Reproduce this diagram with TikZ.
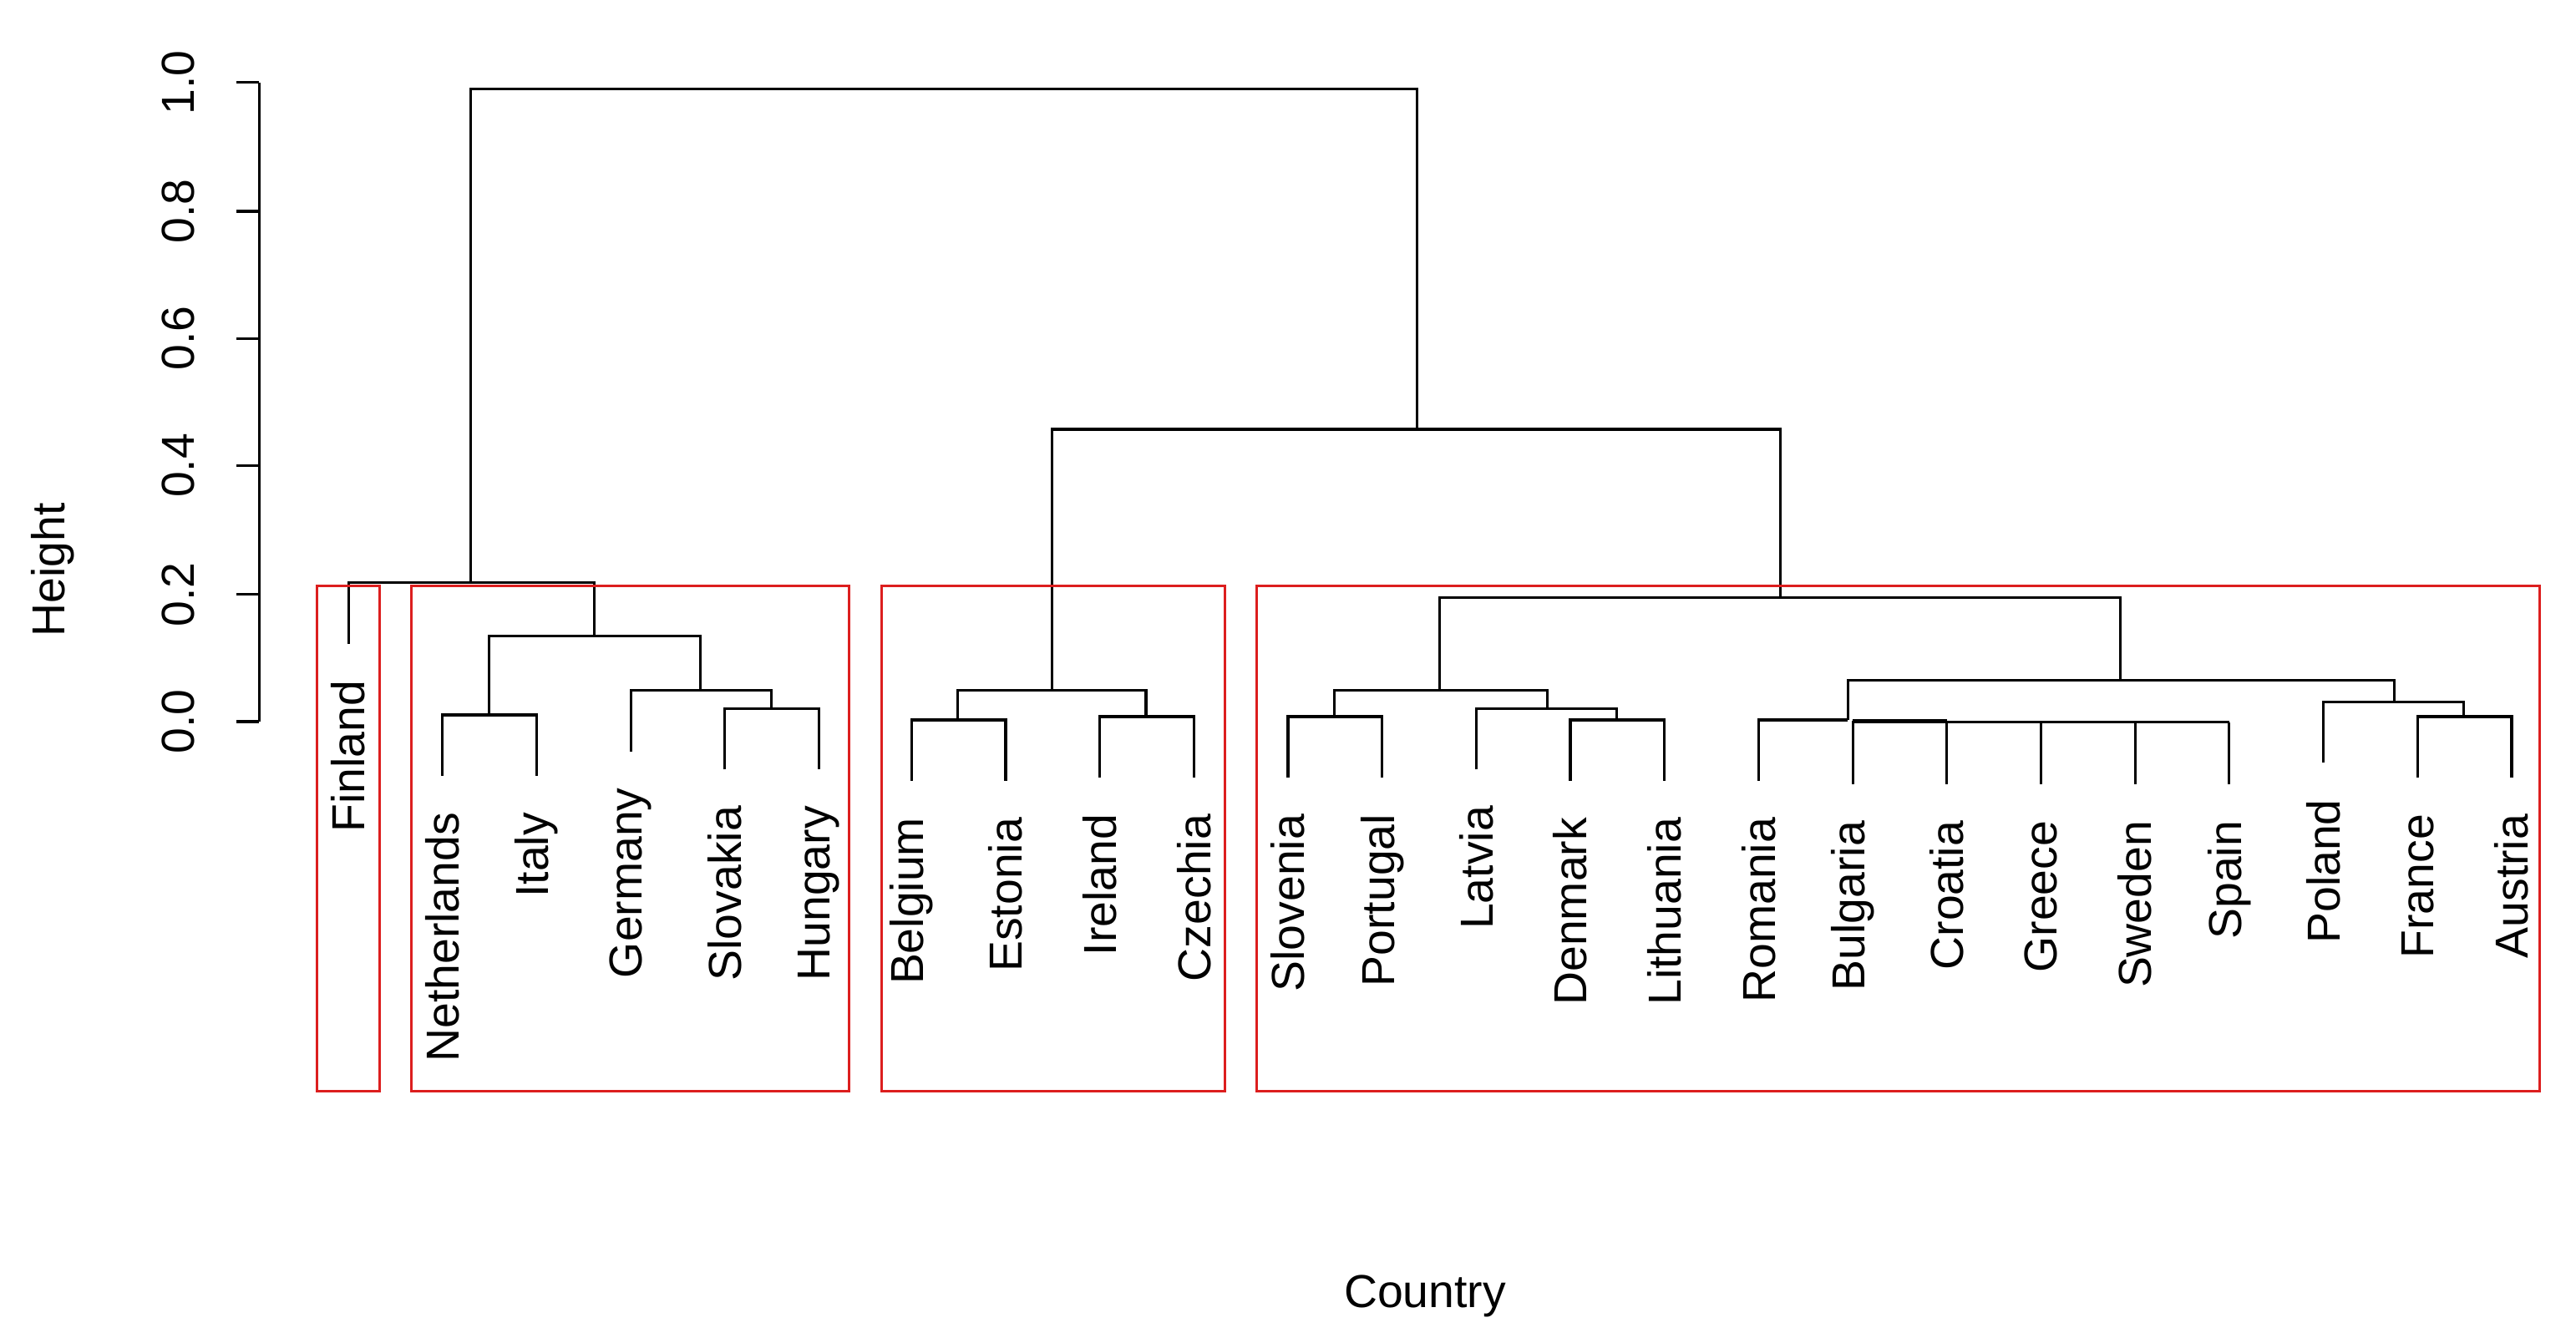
\documentclass[tikz,border=0pt]{standalone}
\usepackage{fontspec}
\setmainfont{Liberation Sans}
\begin{document}
\begin{tikzpicture}[x=1pt,y=-1pt,
  br/.style={line width=1.6pt,black},
  box/.style={line width=1.6pt,draw={rgb,255:red,220;green,30;blue,30}},
  lab/.style={rotate=90,anchor=east,inner sep=0pt,font=\fontsize{28}{32}\selectfont},
  tk/.style={rotate=90,anchor=south,inner sep=0pt,font=\fontsize{28}{32}\selectfont}]
\useasboundingbox (0,0) rectangle (1560,813);
% axis
\coordinate (a0) at (157,437); \coordinate (a1) at (157,50);
\draw[br] (a0) -- (a1);
\foreach \v/\y in {0.0/437,0.2/360,0.4/282,0.6/205,0.8/128,1.0/50}{
  \draw[br] (157,\y) -- (143,\y);
  \node[tk] (t\y) at (118,\y) {\v};
}
\node[tk] (ylab) at (45,345) {Height};
\node[font=\fontsize{28}{32}\selectfont] (xlab) at (863,785) {Country};
% leaves: name/x/bottom
\foreach \n/\x/\b in {Finland/211/390,Netherlands/268/470,Italy/325/470,Germany/382/455,Slovakia/439/466,Hungary/496/466,Belgium/552/473,Estonia/609/473,Ireland/666/471,Czechia/723/471,Slovenia/780/471,Portugal/837/471,Latvia/894/466,Denmark/951/473,Lithuania/1008/473,Romania/1065/473,Bulgaria/1122/475,Croatia/1179/475,Greece/1236/475,Sweden/1293/475,Spain/1350/475,Poland/1407/462,France/1464/471,Austria/1521/471}{
  \coordinate (l\n) at (\x,\b);
  \node[lab] (n\n) at (\x,\b+22) {\n};
}
% dendrogram: U-shape merges
\newcommand{\mrg}[5]{\draw[br] (#1,#3) -- (#1,#4) -- (#2,#4) -- (#2,#5);}
\mrg{268}{325}{470}{433}{470}
\mrg{439}{496}{466}{429}{466}
\mrg{382}{467}{455}{418}{429}
\mrg{296}{424}{433}{385}{418}
\mrg{211}{360}{390}{353}{385}
\mrg{552}{609}{473}{436}{473}
\mrg{666}{723}{471}{434}{471}
\mrg{580}{694}{436}{418}{434}
\mrg{780}{837}{471}{434}{471}
\mrg{951}{1008}{473}{436}{473}
\mrg{894}{979}{466}{429}{436}
\mrg{808}{937}{434}{418}{429}
% Romania chain
\draw[br] (1122,475) -- (1122,437.5) -- (1350,437.5);
\foreach \x in {1179,1236,1293,1350}{\draw[br] (\x,475) -- (\x,437.5);}
\draw[line width=2.6pt] (1122,436.8) -- (1179,436.8);
\mrg{1065}{1119}{473}{436}{436}
\mrg{1464}{1521}{471}{434}{471}
\mrg{1407}{1492}{462}{425}{434}
\mrg{1119}{1450}{436}{412}{425}
\mrg{872}{1284}{418}{362}{412}
\mrg{637}{1078}{418}{260}{362}
\mrg{285}{858}{353}{54}{260}
% boxes
\draw[box] (192,355) rectangle (230,661);
\draw[box] (249,355) rectangle (514,661);
\draw[box] (534,355) rectangle (742,661);
\draw[box] (761,355) rectangle (1538,661);
\end{tikzpicture}
\end{document}
